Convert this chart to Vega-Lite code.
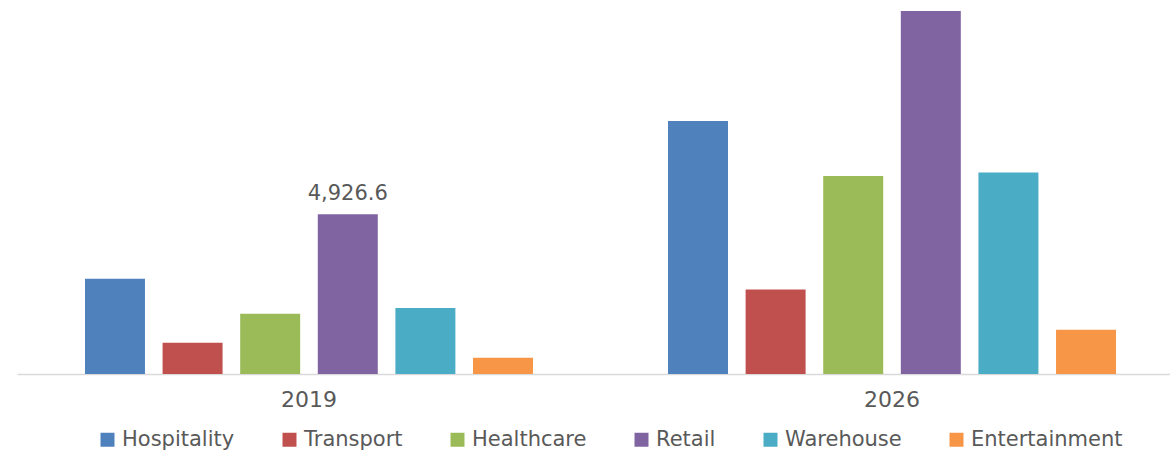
{
  "$schema": "https://vega.github.io/schema/vega-lite/v6.json",
  "autosize": {"type": "none"},
  "padding": {"left": 17, "top": 0, "right": 0, "bottom": 79},
  "width": 1167,
  "height": 374,
  "background": "white",
  "config": {"view": {"stroke": null}},
  "data": {"values": [
    {"year": "2019", "segment": "Hospitality", "value": 2940},
    {"year": "2019", "segment": "Transport", "value": 966},
    {"year": "2019", "segment": "Healthcare", "value": 1860},
    {"year": "2019", "segment": "Retail", "value": 4926.6},
    {"year": "2019", "segment": "Warehouse", "value": 2036},
    {"year": "2019", "segment": "Entertainment", "value": 503},
    {"year": "2026", "segment": "Hospitality", "value": 7805},
    {"year": "2026", "segment": "Transport", "value": 2610},
    {"year": "2026", "segment": "Healthcare", "value": 6108},
    {"year": "2026", "segment": "Retail", "value": 11199},
    {"year": "2026", "segment": "Warehouse", "value": 6219},
    {"year": "2026", "segment": "Entertainment", "value": 1367}
  ]},
  "encoding": {
    "x": {
      "field": "year", "type": "nominal",
      "scale": {"paddingInner": 0.2316, "paddingOuter": 0.1166},
      "axis": {
        "title": null, "ticks": false, "domainColor": "#d9d9d9", "domainWidth": 1.5,
        "labelAngle": 0, "labelFont": "DejaVu Sans", "labelFontSize": 22,
        "labelColor": "#595959", "labelPadding": 15, "grid": false
      }
    },
    "xOffset": {
      "field": "segment", "type": "nominal",
      "sort": ["Hospitality", "Transport", "Healthcare", "Retail", "Warehouse", "Entertainment"],
      "scale": {"paddingInner": 0.227, "paddingOuter": 0}
    },
    "y": {
      "field": "value", "type": "quantitative",
      "scale": {"domain": [0, 11540], "nice": false},
      "axis": null
    }
  },
  "layer": [
    {
      "mark": {"type": "bar"},
      "encoding": {
        "color": {
          "field": "segment", "type": "nominal",
          "scale": {
            "domain": ["Hospitality", "Transport", "Healthcare", "Retail", "Warehouse", "Entertainment"],
            "range": ["#4f81bd", "#c0504d", "#9bbb59", "#8064a2", "#4bacc6", "#f79646"]
          },
          "legend": {
            "title": null, "orient": "none", "direction": "horizontal",
            "legendX": 80, "legendY": 429,
            "symbolType": "square", "symbolSize": 196, "symbolStrokeWidth": 0,
            "labelFont": "DejaVu Sans", "labelFontSize": 21, "labelColor": "#595959",
            "labelOffset": 4, "columnPadding": 44
          }
        }
      }
    },
    {
      "transform": [{"filter": "datum.year == '2019' && datum.segment == 'Retail'"}],
      "mark": {"type": "text", "baseline": "alphabetic", "dy": -14, "font": "DejaVu Sans", "fontSize": 21, "color": "#595959"},
      "encoding": {
        "text": {"field": "value", "type": "quantitative", "format": ",.1f"}
      }
    }
  ]
}
